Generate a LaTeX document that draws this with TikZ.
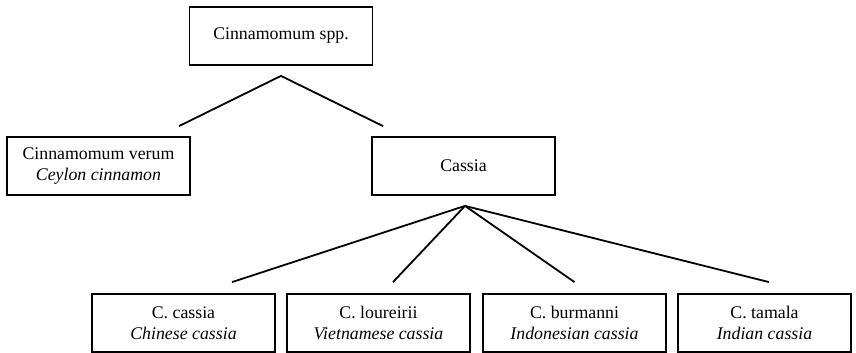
\documentclass[tikz,border=0pt]{standalone}
\usepackage{fontspec}
\setmainfont{Liberation Serif}
\usetikzlibrary{calc}

\begin{document}
\begin{tikzpicture}[x=0.5pt,y=-0.5pt,line width=0.9pt,
    taxon/.style={draw,rectangle,align=center,minimum width=91.5pt,minimum height=29pt,
        inner sep=2pt,font=\fontsize{8.9}{10.5}\selectfont}]
    \useasboundingbox (0,0) rectangle (856,353);
    \node[taxon] at (281,36) (genus) {Cinnamomum spp.};
    \node[taxon] at (98.5,166) (verum) {Cinnamomum verum\\\textit{Ceylon cinnamon}};
    \node[taxon] at (463.5,166) (cassia) {Cassia};

    \node[taxon] at (183.5,323) (ccassia) {C. cassia\\\textit{Chinese cassia}};
    \node[taxon] at (378.5,323) (cloureirii) {C. loureirii\\\textit{Vietnamese cassia}};
    \node[taxon] at (574.5,323) (cburmanni) {C. burmanni\\\textit{Indonesian cassia}};
    \node[taxon,minimum width=86.5pt] at (764.5,323) (ctamala) {C. tamala\\\textit{Indian cassia}};

    % forks just below the parent boxes
    \coordinate (fork1) at ($(genus.south)+(0,10)$);
    \coordinate (fork2) at ($(cassia.south)+(1.5,10)$);
    \coordinate (verum-end) at ($(verum.north)+(80.5,-10)$);
    \coordinate (cassia-end) at ($(cassia.north)+(-80.5,-10)$);
    \draw (verum-end) -- (fork1) -- (cassia-end);

    \foreach \sp/\dx in {ccassia/48.5, cloureirii/14.5, cburmanni/0, ctamala/4.5}{
        \coordinate (\sp-end) at ($(\sp.north)+(\dx,-11)$);
        \draw (fork2) -- (\sp-end);
    }
\end{tikzpicture}
\end{document}
